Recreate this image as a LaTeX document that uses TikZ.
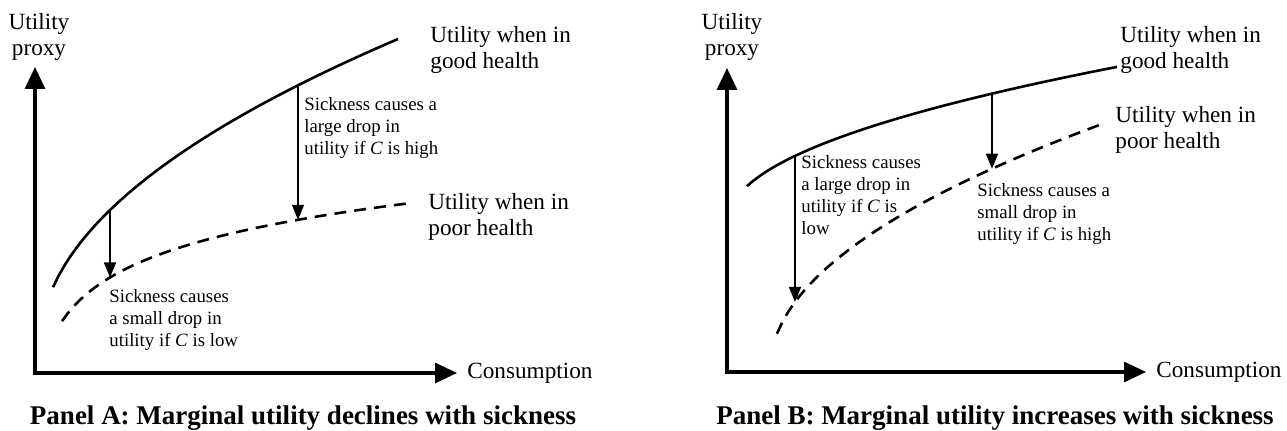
\documentclass[tikz,border=0pt]{standalone}
\usepackage{fontspec}
\setmainfont{Liberation Serif}
\usepackage{tikz}
\usetikzlibrary{arrows.meta}
\usetikzlibrary{positioning}
\tikzset{>=latex}
\tikzstyle{axis} = [{Triangle[length=11pt,width=10pt]}-{Triangle[length=11pt,width=10pt]}, line width=1.6pt, line join=miter]
\tikzstyle{drop} = [-{Triangle[length=7.5pt,width=6pt]}, line width=0.7pt]
\tikzstyle{good} = [line width=1.3pt]
\tikzstyle{poor} = [line width=1.3pt, dash pattern=on 6pt off 4pt]
\tikzstyle{lbl} = [draw=none, inner sep=0, anchor=west, align=left, font=\fontsize{11.6}{13}\selectfont]
\tikzstyle{ylbl} = [draw=none, inner sep=0, align=center, font=\fontsize{11.6}{13}\selectfont]
\tikzstyle{note} = [draw=none, inner sep=0, anchor=west, align=left, font=\fontsize{9.4}{11}\selectfont]
\tikzstyle{ttl} = [draw=none, inner sep=0, font=\fontsize{13.5}{16}\selectfont\bfseries]

\begin{document}
\begin{tikzpicture}[x=0.5pt, y=-0.5pt]
\useasboundingbox (0,0) rectangle (1287,431);

% Panel A
\coordinate (OA) at (35,373);
\coordinate (yA) at (35,67);
\coordinate (xA) at (457,373);
\draw [axis] (yA) -- (OA) -- (xA);
\node [ylbl] (yAlbl) at (39,37) {Utility\\proxy};
\node [lbl] (xAlbl) at (467,373) {Consumption};

\coordinate (gA1) at (110,{345.7-16.21*sqrt(70)});
\coordinate (gA2) at (298,{345.7-16.21*sqrt(258)});
\coordinate (pA1) at (110,{486.5-47.7*ln(80)});
\coordinate (pA2) at (298,{486.5-47.7*ln(268)});
\draw [good] plot [domain=53:398, samples=60] (\x, {345.7-16.21*sqrt(\x-40)});
\draw [poor] plot [domain=62:412, samples=60] (\x, {486.5-47.7*ln(\x-30)});
\draw [drop] (gA1) -- (pA1);
\draw [drop] (gA2) -- (pA2);

\node [lbl] (gAlbl) at (430,50) {Utility when in\\good health};
\node [lbl] (pAlbl) at (428,217) {Utility when in\\poor health};
\node [note] (lowA) at (109,320) {Sickness causes\\a small drop in\\utility if \textit{C} is low};
\node [note] (highA) at (304,128) {Sickness causes a\\large drop in\\utility if \textit{C} is high};
\node [ttl] (ttlA) at (303,418) {Panel A: Marginal utility declines with sickness};

% Panel B
\coordinate (OB) at (727,372);
\coordinate (yB) at (727,68);
\coordinate (xB) at (1146,372);
\draw [axis] (yB) -- (OB) -- (xB);
\node [ylbl] (yBlbl) at (732,37) {Utility\\proxy};
\node [lbl] (xBlbl) at (1156,372) {Consumption};

\coordinate (gB1) at (795,{217.8-7.67*sqrt(65)});
\coordinate (gB2) at (992,{217.8-7.67*sqrt(262)});
\coordinate (pB1) at (795,{369.3-13.46*sqrt(25)});
\coordinate (pB2) at (992,{369.3-13.46*sqrt(222)});
\draw [good] plot [domain=747:1117, samples=60] (\x, {217.8-7.67*sqrt(\x-730)});
\draw [poor] plot [domain=777:1105, samples=60] (\x, {369.3-13.46*sqrt(\x-770)});
\draw [drop] (gB1) -- (pB1);
\draw [drop] (gB2) -- (pB2);

\node [lbl] (gBlbl) at (1120,50) {Utility when in\\good health};
\node [lbl] (pBlbl) at (1115,130) {Utility when in\\poor health};
\node [note] (lowB) at (801,195) {Sickness causes\\a large drop in\\utility if \textit{C} is\\low};
\node [note] (highB) at (977,214) {Sickness causes a\\small drop in\\utility if \textit{C} is high};
\node [ttl] (ttlB) at (995,418) {Panel B: Marginal utility increases with sickness};
\end{tikzpicture}
\end{document}
